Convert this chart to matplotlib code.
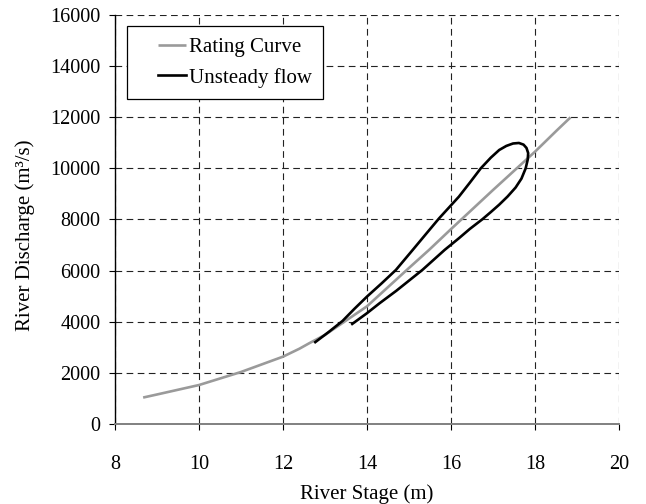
import matplotlib
matplotlib.use('Agg')
import matplotlib.pyplot as plt
from matplotlib.legend_handler import HandlerLine2D

# Rating curve (stage in m, discharge in m3/s)
rating_stage = [8.67, 9.0, 10.0, 11.0, 12.0, 12.39, 12.63, 13.0, 14.0, 15.0, 15.48, 16.0, 17.0, 18.0, 18.53, 18.85]
rating_q = [1030, 1150, 1520, 2030, 2630, 2940, 3160, 3480, 4600, 6100, 6810, 7620, 9150, 10650, 11500, 12000]

# Unsteady flow loop (rising limb then falling limb)
loop_stage = [12.77, 13.10, 13.42, 13.70, 14.00, 14.35, 14.69, 15.09, 15.40, 15.72, 16.19, 16.45, 16.71, 16.95,
              17.15, 17.32, 17.48, 17.62, 17.73, 17.80, 17.84, 17.83, 17.78, 17.68, 17.54, 17.35, 17.15, 16.95,
              16.75, 16.45, 16.19, 15.85, 15.32, 14.70, 14.30, 14.00, 13.65]
loop_q = [3200, 3610, 4030, 4500, 4980, 5500, 6025, 6808, 7420, 8048, 8893, 9440, 10000, 10420,
          10720, 10880, 10975, 10995, 10930, 10800, 10600, 10350, 10000, 9600, 9250, 8900, 8580, 8290,
          8010, 7630, 7265, 6808, 6025, 5210, 4720, 4331, 3912]

x_ticks = [8, 10, 12, 14, 16, 18, 20]
y_ticks = [0, 2000, 4000, 6000, 8000, 10000, 12000, 14000, 16000]

plt.rcParams['font.family'] = ['Liberation Serif', 'DejaVu Serif']
plt.rcParams['font.size'] = 14.5

fig = plt.figure(figsize=(6.46, 5.04), dpi=100, facecolor='white')
ax = fig.add_axes([0.178, 0.159, 0.780, 0.811])

ax.plot(rating_stage, rating_q, color='#9a9a9a', lw=1.9, label='Rating Curve', zorder=3, solid_capstyle='butt')
ax.plot(loop_stage, loop_q, color='black', lw=1.9, label='Unsteady flow', zorder=4,
        solid_joinstyle='round')

ax.set_xlim(8, 20)
ax.set_ylim(0, 16000)
ax.set_xticks(x_ticks)
ax.set_yticks(y_ticks)

ax.grid(True, color='#222222', linestyle=(0, (6, 4)), lw=0.8)
ax.set_axisbelow(True)

ax.spines[['top', 'right']].set_visible(False)
ax.spines['left'].set_color('black')
ax.spines['left'].set_linewidth(1.0)
ax.spines['bottom'].set_color('#808080')
ax.spines['bottom'].set_linewidth(1.4)

ax.tick_params(axis='y', direction='out', length=4.5, width=0.8, pad=6)
ax.tick_params(axis='x', direction='out', length=4.5, width=0.8, pad=18)

ax.set_xlabel('River Stage (m)', labelpad=7, fontsize=15)
ax.set_ylabel('River Discharge (m³/s)', labelpad=11, fontsize=15)
ax.yaxis.label.set_y(0.462)  # title sits a little below the middle

# shift the short legend lines right, like the reference box
leg = ax.legend(loc='upper left', bbox_to_anchor=(0.024, 0.973), borderaxespad=0,
                fancybox=False, framealpha=1, edgecolor='black', handlelength=2.3,
                handletextpad=0.1, borderpad=0.55, labelspacing=0.5, fontsize=15,
                handler_map={plt.Line2D: HandlerLine2D(xpad=0.95)})
leg.get_frame().set_linewidth(0.9)

fig.savefig('out.png', dpi=100, facecolor='white')
